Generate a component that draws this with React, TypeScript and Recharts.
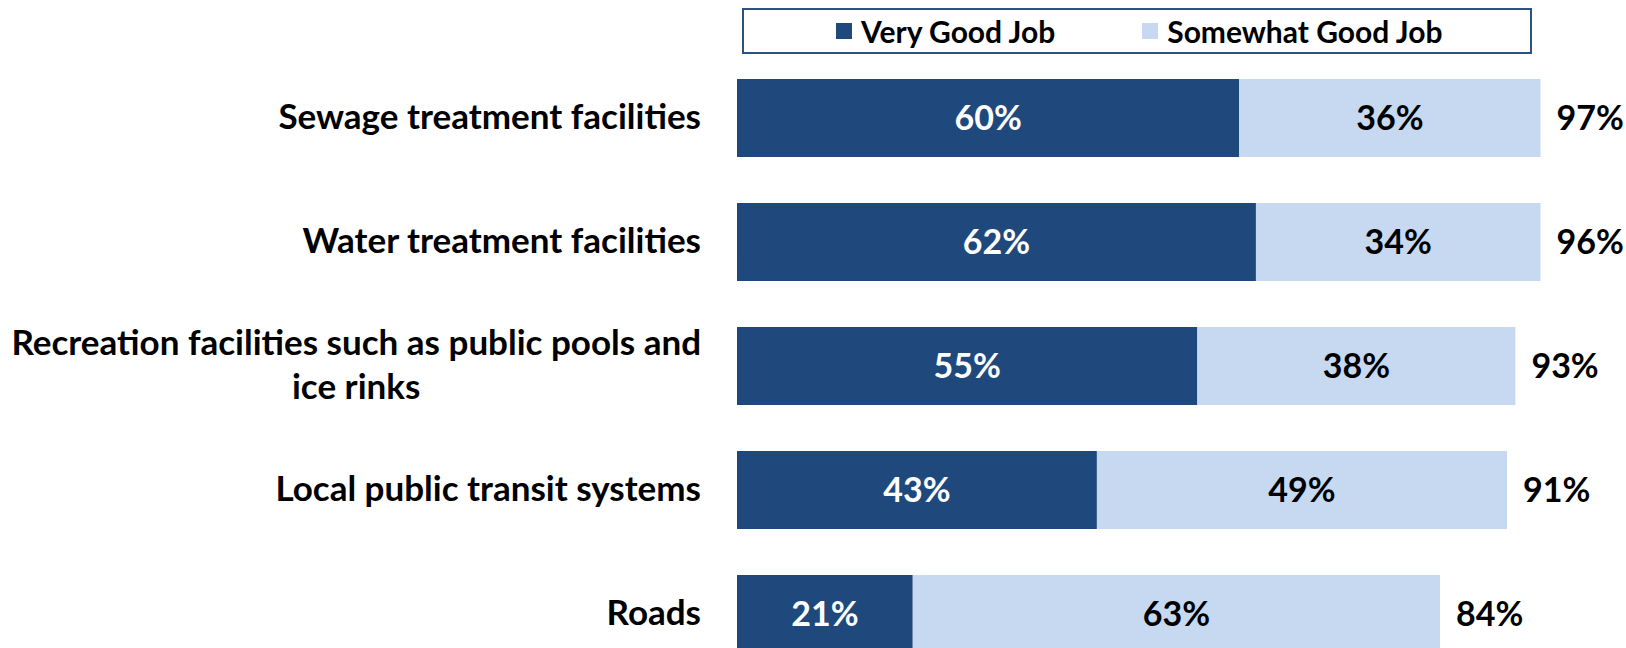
import { BarChart, Bar, XAxis, YAxis, Legend, LabelList } from "recharts";

const categories = [
  ["Sewage treatment facilities"],
  ["Water treatment facilities"],
  ["Recreation facilities such as public pools and", "ice rinks"],
  ["Local public transit systems"],
  ["Roads"],
];
const veryGood = [60, 62, 55, 43, 21];
const somewhatGood = [36, 34, 38, 49, 63];
const totals = [97, 96, 93, 91, 84];

const DARK = "#1F497D";
const LIGHT = "#C6D9F1";
const FONT = "Lato, 'Liberation Sans', sans-serif";
const LABEL_SIZE = 34;
const CAT_SIZE = 35;

const data = categories.map((lines, i) => ({
  name: lines.join(" "),
  lines,
  veryGood: veryGood[i],
  somewhatGood: somewhatGood[i],
  total: totals[i],
}));

// category label: block sits right-aligned against the bars, wrapped lines centred
const CategoryTick = ({ x, y, payload, index }: any) => {
  const lines = data[index]?.lines || [payload.value];
  const lh = 44;
  const h = lines.length * lh;
  return (
    <foreignObject x={x - 720} y={y - h / 2 - 3} width={720} height={h}>
      <div style={{ display: "flex", justifyContent: "flex-end", height: "100%" }}>
        <div
          style={{
            textAlign: "center",
            fontFamily: FONT,
            fontWeight: 700,
            fontSize: CAT_SIZE,
            lineHeight: `${lh}px`,
            color: "#000",
            whiteSpace: "nowrap",
          }}
        >
          {lines.map((l: string, i: number) => (
            <div key={i}>{l}</div>
          ))}
        </div>
      </div>
    </foreignObject>
  );
};

const TotalLabel = ({ x, y, width, height, value }: any) => (
  <text x={x + width + 16} y={y + height / 2} dy="0.35em" textAnchor="start" fontFamily={FONT} fontWeight={700} fontSize={LABEL_SIZE} fill="#000">
    {value}%
  </text>
);

const LegendBox = () => (
  <div
    style={{
      boxSizing: "border-box",
      width: 790,
      height: 46,
      border: "2px solid #2E5185",
      display: "flex",
      alignItems: "center",
      justifyContent: "flex-start",
      gap: 87,
      fontFamily: FONT,
      fontWeight: 700,
      fontSize: 30,
      color: "#000",
      paddingLeft: 92,
    }}
  >
    {[
      ["Very Good Job", DARK],
      ["Somewhat Good Job", LIGHT],
    ].map(([label, color]) => (
      <span key={label} style={{ display: "flex", alignItems: "center" }}>
        <span style={{ width: 16, height: 16, background: color, marginRight: 9 }} />
        {label}
      </span>
    ))}
  </div>
);

export default function App() {
  return (
    <div style={{ position: "absolute", left: 0, top: 0, width: 1626, height: 648, overflow: "hidden", background: "#fff" }}>
      <BarChart
        width={1626}
        height={680}
        data={data}
        layout="vertical"
        margin={{ top: 56, right: 52, left: 0, bottom: 4 }}
        barCategoryGap={46}
      >
        <XAxis type="number" domain={[0, 100]} hide />
        <YAxis
          type="category"
          dataKey="name"
          width={737}
          tickLine={false}
          axisLine={false}
          tickSize={0}
          tickMargin={36}
          tick={<CategoryTick />}
          interval={0}
        />
        <Legend
          layout="horizontal"
          verticalAlign="middle"
          align="center"
          content={<LegendBox />}
          wrapperStyle={{ top: 8, left: 742, width: 790, height: 46 }}
        />
        <Bar dataKey="veryGood" name="Very Good Job" stackId="a" fill={DARK} barSize={78} isAnimationActive={false}>
          <LabelList dataKey="veryGood" position="center" formatter={(v: any) => `${v}%`} fill="#fff" fontFamily={FONT} fontWeight={700} fontSize={LABEL_SIZE} />
        </Bar>
        <Bar dataKey="somewhatGood" name="Somewhat Good Job" stackId="a" fill={LIGHT} barSize={78} isAnimationActive={false}>
          <LabelList dataKey="somewhatGood" position="center" formatter={(v: any) => `${v}%`} fill="#000" fontFamily={FONT} fontWeight={700} fontSize={LABEL_SIZE} />
          <LabelList dataKey="total" content={<TotalLabel />} />
        </Bar>
      </BarChart>
    </div>
  );
}
